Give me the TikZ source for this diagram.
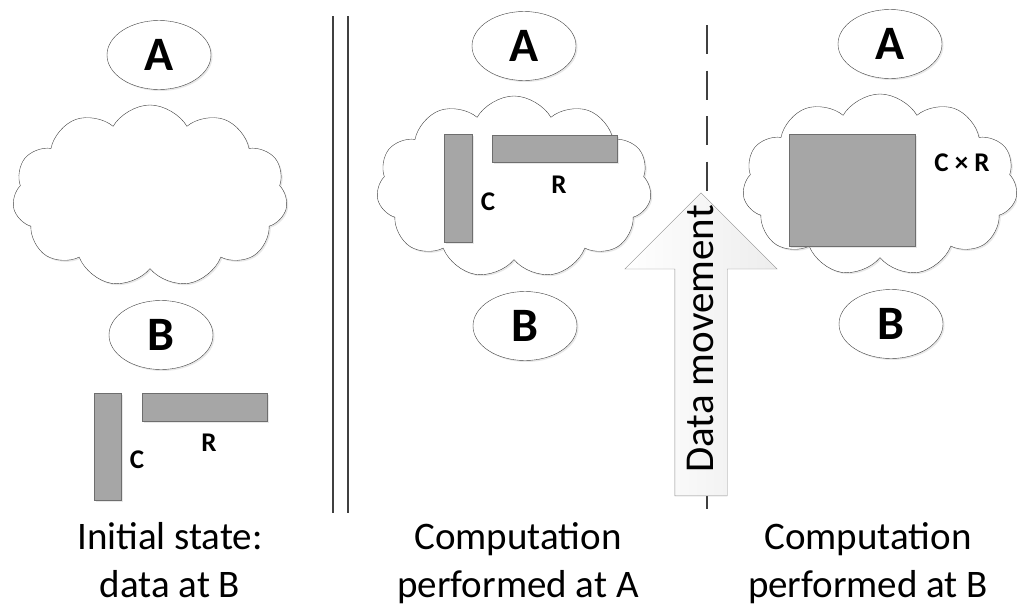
\documentclass[tikz,border=0pt]{standalone}
\usepackage{fontspec}
\setmainfont{Carlito}
\usetikzlibrary{
  positioning, calc, shapes.geometric, shapes.symbols,
	shapes.arrows, shadows}
\definecolor{lGray}{HTML}{404040}
\definecolor{rFill}{HTML}{A6A6A6}
\definecolor{rLine}{HTML}{6E6E6E}
\definecolor{mLine}{HTML}{8C8C8C}
\definecolor{mFill}{HTML}{EDEDED}
\tikzset{
    Soft/.style = {
        drop shadow={opacity=0.18, shadow xshift=1.5pt, shadow yshift=-1.5pt}
    },
    Site/.style = {
        ellipse, draw=lGray, fill=white, inner sep=0pt, Soft,
        minimum width=104pt, minimum height=69pt,
        font=\fontsize{48pt}{48pt}\selectfont\bfseries
    },
    Cloud/.style = {
        cloud, cloud puffs=11, cloud puff arc=120, cloud ignores aspect,
        draw=lGray, fill=white, Soft,
        minimum width=275pt, minimum height=182pt
    },
    Block/.style 2 args = {
        draw=rLine, fill=rFill, inner sep=0pt, Soft,
        minimum width=#1, minimum height=#2
    },
    Dim/.style = {
        inner sep=0pt, font=\fontsize{27pt}{27pt}\selectfont\bfseries
    },
    Caption/.style = {
        align=center, inner sep=0pt,
        font=\fontsize{39pt}{48pt}\selectfont
    },
    Move/.style = {
        single arrow, single arrow head indent=0pt, draw=mLine,
        left color=white, right color=mFill,
        single arrow head extend=50pt, minimum height=303pt,
        minimum width=0pt, inner xsep=0pt, inner ysep=26pt,
        text height=0pt, text depth=0pt
    },
    MoveText/.style = {
        inner sep=0pt, font=\fontsize{41pt}{41pt}\selectfont
    },
    Sep/.style = {draw=lGray, line width=2.2pt},
    Dash/.style = {draw=lGray, line width=1.5pt, dash pattern=on 29pt off 16.5pt}
}

\begin{document}
\begin{tikzpicture}[x=1pt, y=-1pt]
    \useasboundingbox (0,0) rectangle (1017,605);
    % initial state
    \node [Site] (A1) at (159,55) {A};
    \node [Cloud] (K1) at (150,196) {};
    \node [Site] (B1) at (161,335) {B};
    \node [Block={27pt}{107pt}] (C1) at (107.5,446.5) {};
    \node [Block={125pt}{28pt}] (R1) at (204.5,407) {};
    \node [Dim] (c1) at (137,460) {C};
    \node [Dim] (r1) at (209,443) {R};
    \node [Caption, anchor=base] (T1) at (170,597) {Initial state:\\data at B};
    % separator
    \coordinate (s1) at (333,16);
    \coordinate (s2) at (333,513);
    \coordinate (s3) at (348,16);
    \coordinate (s4) at (348,513);
    \draw [Sep] (s1) -- (s2);
    \draw [Sep] (s3) -- (s4);
    % at A
    \node [Site] (A2) at (524,46) {A};
    \node [Cloud] (K2) at (514,187) {};
    \node [Site] (B2) at (525,326) {B};
    \node [Block={28pt}{108pt}] (C2) at (458,188) {};
    \node [Block={125pt}{27pt}] (R2) at (554.5,148.5) {};
    \node [Dim] (c2) at (488,202) {C};
    \node [Dim] (r2) at (559,185) {R};
    \node [Caption, anchor=base] (T2) at (518,597) {Computation\\performed at A};
    % moving the data
    \coordinate (d1) at (707,25);
    \coordinate (d2) at (707,510);
    \draw [Dash] (d1) -- (d2);
    \node [Move, rotate=90, anchor=tail] (M) at (701,496) {};
    \node [MoveText, rotate=90, anchor=base] (m) at (713,339) {Data movement};
    % at B
    \node [Site] (A3) at (890,44) {A};
    \node [Cloud] (K3) at (880,185) {};
    \node [Site] (B3) at (891,324) {B};
    \node [Block={126pt}{112pt}] (CR) at (852,190) {};
    \node [Dim] (cr) at (962,163) {C × R};
    \node [Caption, anchor=base] (T3) at (868,597) {Computation\\performed at B};
\end{tikzpicture}
\end{document}
